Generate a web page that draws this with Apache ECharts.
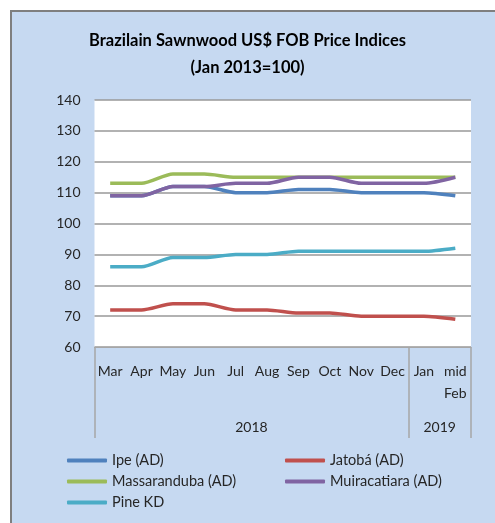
<!DOCTYPE html>
<html><head><meta charset="utf-8">
<script src="https://cdn.jsdelivr.net/npm/echarts@6/dist/echarts.min.js"></script>
<style>html,body{margin:0;padding:0;background:#fff}#c{width:495px;height:523px}</style>
</head><body><div id="c"></div>
<script>
const categories = ['Mar','Apr','May','Jun','Jul','Aug','Sep','Oct','Nov','Dec','Jan','mid\nFeb'];
const yearLabels = {5:'2018', 11:'2019'};
const ipe = [109,109,112,112,110,110,111,111,110,110,110,109];
const jatoba = [72,72,74,74,72,72,71,71,70,70,70,69];
const massaranduba = [113,113,116,116,115,115,115,115,115,115,115,115];
const muiracatiara = [109,109,112,112,113,113,115,115,113,113,113,115];
const pineKD = [86,86,89,89,90,90,91,91,91,91,91,92];
const yTicks = {min:60, max:140, interval:10};

const FONT = 'Lato';
const TXT = '#262626';
const mk = (name, data, color) => ({
  name, type:'line', data, symbol:'none', smooth:0.25, xAxisIndex:0,
  lineStyle:{width:3.5, color}, itemStyle:{color}
});
const chart = echarts.init(document.getElementById('c'));
chart.setOption({
  animation:false,
  backgroundColor:'#ffffff',
  graphic:[{type:'rect', z:-10, shape:{x:11,y:11,width:500,height:520},
    style:{fill:'#C6D9F1', stroke:'#7F7F7F', lineWidth:2}}],
  title:{text:'Brazilain Sawnwood US$ FOB Price Indices\n(Jan 2013=100)', left:'center', top:27,
    padding:[0,0,0,12],
    textStyle:{fontFamily:FONT, fontWeight:'bold', fontSize:16.5, color:'#000', lineHeight:27}},
  grid:{left:94.5, right:24, top:100, bottom:176, backgroundColor:'#ffffff', show:true, borderWidth:0},
  xAxis:[{
    type:'category', data:categories, boundaryGap:true, position:'bottom',
    axisLine:{show:true, lineStyle:{color:'#A6A6A6', width:1}},
    axisTick:{show:false},
    axisLabel:{interval:0, margin:13, fontFamily:FONT, fontSize:14, color:TXT, lineHeight:22}
  },{
    type:'value', min:0, max:12, interval:1, position:'bottom',
    axisLine:{show:false},
    axisTick:{show:true, customValues:[0,10,12], length:91, lineStyle:{color:'#A6A6A6', width:1.5}},
    axisLabel:{margin:73, fontFamily:FONT, fontSize:14, color:TXT,
      customValues:[5,11], formatter:v=>yearLabels[v]||''},
    splitLine:{show:false}
  }],
  yAxis:{type:'value', min:yTicks.min, max:yTicks.max, interval:yTicks.interval,
    axisLine:{show:false}, axisTick:{show:false},
    axisLabel:{margin:14, fontFamily:FONT, fontSize:14, color:TXT},
    splitLine:{lineStyle:{color:'#999999', width:1.5}}},
  legend:[{
    data:['Ipe (AD)','Massaranduba (AD)','Pine KD'], orient:'vertical', left:62, top:448,
    icon:'roundRect', itemWidth:40, itemHeight:4, itemGap:6, itemTextGap:5,
    textStyle:{fontFamily:FONT, fontSize:14.5, color:TXT}
  },{
    data:['Jatobá (AD)','Muiracatiara (AD)'], orient:'vertical', left:280, top:448,
    icon:'roundRect', itemWidth:40, itemHeight:4, itemGap:6, itemTextGap:1,
    textStyle:{fontFamily:FONT, fontSize:14.5, color:TXT}
  }],
  series:[
    mk('Ipe (AD)', ipe, '#4F81BD'),
    mk('Jatobá (AD)', jatoba, '#C0504D'),
    mk('Massaranduba (AD)', massaranduba, '#9BBB59'),
    mk('Muiracatiara (AD)', muiracatiara, '#8064A2'),
    mk('Pine KD', pineKD, '#4BACC6')
  ]
});
</script></body></html>
